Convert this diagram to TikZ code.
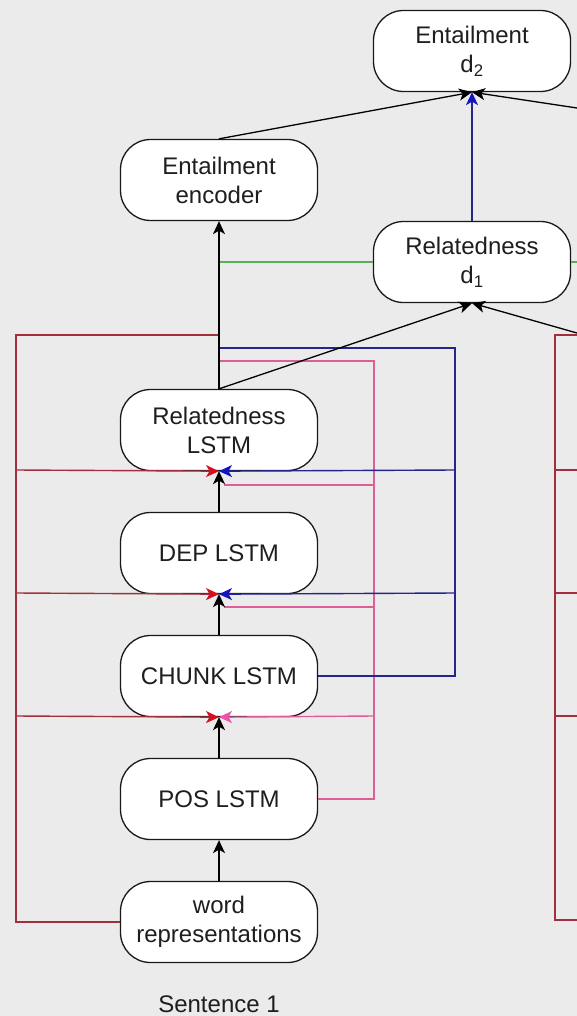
\documentclass[tikz,border=0pt]{standalone}
\usepackage{fontspec}
\setmainfont{Liberation Sans}
\usetikzlibrary{arrows.meta}
\definecolor{bgc}{HTML}{EBEBEB}
\definecolor{txt}{HTML}{1E1E1E}
\definecolor{redl}{HTML}{A0303C}
\definecolor{redtip}{HTML}{D41020}
\definecolor{bluel}{HTML}{25258C}
\definecolor{bluetip}{HTML}{1414C0}
\definecolor{pinkl}{HTML}{DC5F98}
\definecolor{pinktip}{HTML}{F050A8}
\definecolor{greenl}{HTML}{5AAE5A}
\begin{document}
\begin{tikzpicture}[x=1pt,y=-1pt,
  box/.style={draw=black!90, line width=1.3pt, fill=white, rounded corners=30pt,
    minimum width=197pt, minimum height=81pt, align=center, inner sep=0pt,
    text=txt, font=\fontsize{24}{29}\selectfont},
  tipshape/.style={-{Stealth[length=13pt,width=12pt,inset=3.5pt,#1]}},
  link/.style={line width=1.3pt, black},
  blk/.style={link, tipshape={}},
  redp/.style={line width=1.4pt, redl},
  redarr/.style={redp, tipshape={color=redtip}},
  bluep/.style={line width=1.4pt, bluel},
  bluearr/.style={bluep, tipshape={color=bluetip}},
  pinkp/.style={line width=1.4pt, pinkl},
  pinkarr/.style={pinkp, tipshape={color=pinktip}},
  greenp/.style={line width=1.2pt, greenl}
]
\fill[bgc] (0,0) rectangle (577,1016);
\useasboundingbox (0,0) rectangle (577,1016);

% model blocks for sentence 1 and the shared heads
\node[box] (d2)  at (472,51)  {Entailment\\d\textsubscript{2}};
\node[box] (enc) at (219,180) {Entailment\\encoder};
\node[box] (d1)  at (472,262) {Relatedness\\d\textsubscript{1}};
\node[box] (rel) at (219,430) {Relatedness\\LSTM};
\node[box] (dep) at (219,553) {DEP LSTM};
\node[box] (chk) at (219,676) {CHUNK LSTM};
\node[box] (pos) at (219,799) {POS LSTM};
\node[box] (wr)  at (219,922) {word\\representations};
\node[text=txt, font=\fontsize{24}{29}\selectfont] (s1) at (219,1004) {Sentence 1};

% junction points
\coordinate (rA) at (16,922);
\coordinate (rB) at (16,335);
\coordinate (rC) at (219,335);
\coordinate (r1) at (16,470);
\coordinate (r2) at (16,593);
\coordinate (r3) at (16,716);
\coordinate (bA) at (455,676);
\coordinate (bB) at (455,348);
\coordinate (bC) at (219,348);
\coordinate (b1) at (455,470);
\coordinate (b2) at (455,593);
\coordinate (pA) at (374,799);
\coordinate (pB) at (374,361);
\coordinate (pC) at (219,361);
\coordinate (p1) at (374,485);
\coordinate (p1e) at (224,485);
\coordinate (p2) at (374,607);
\coordinate (p2e) at (224,607);
\coordinate (p3) at (374,716);
\coordinate (gA) at (219,262);
\coordinate (gB) at (577,262);
\coordinate (xR1) at (577,108);
\coordinate (xR2) at (577,333);
% sentence 2 shortcut frame (cut at the right edge)
\coordinate (sA) at (577,335);
\coordinate (sB) at (555,335);
\coordinate (sC) at (555,920);
\coordinate (sD) at (577,920);
\coordinate (s1a) at (555,470);
\coordinate (s1b) at (577,470);
\coordinate (s2a) at (555,593);
\coordinate (s2b) at (577,593);
\coordinate (s3a) at (555,716);
\coordinate (s3b) at (577,716);

% word representation shortcuts
\draw[redp] (wr.west) -- (rA) -- (rB) -- (rC);
\draw[redarr] (r1) -- (rel.south);
\draw[redarr] (r2) -- (dep.south);
\draw[redarr] (r3) -- (chk.south);
\draw[redp] (sA) -- (sB) -- (sC) -- (sD);
\draw[redp] (s1a) -- (s1b);
\draw[redp] (s2a) -- (s2b);
\draw[redp] (s3a) -- (s3b);

% POS shortcuts
\draw[pinkp] (pos.east) -- (pA) -- (pB) -- (pC);
\draw[pinkp] (p1) -- (p1e);
\draw[pinkp] (p2) -- (p2e);
\draw[pinkarr] (p3) -- (chk.south);

% CHUNK shortcuts
\draw[bluep] (chk.east) -- (bA) -- (bB) -- (bC);
\draw[bluearr] (b1) -- (rel.south);
\draw[bluearr] (b2) -- (dep.south);

% relatedness output
\draw[greenp] (gA) -- (d1.west);
\draw[greenp] (d1.east) -- (gB);
\draw[bluearr] (d1.north) -- (d2.south);

% main stack
\draw[blk] (wr.north) -- (pos.south);
\draw[blk] (pos.north) -- (chk.south);
\draw[blk] (chk.north) -- (dep.south);
\draw[blk] (dep.north) -- (rel.south);
\draw[blk] (rel.north) -- (enc.south);
\draw[blk] (rel.north) -- (d1.south);
\draw[blk] (xR2) -- (d1.south);
\draw[blk] (enc.north) -- (d2.south);
\draw[blk] (xR1) -- (d2.south);
\end{tikzpicture}
\end{document}
